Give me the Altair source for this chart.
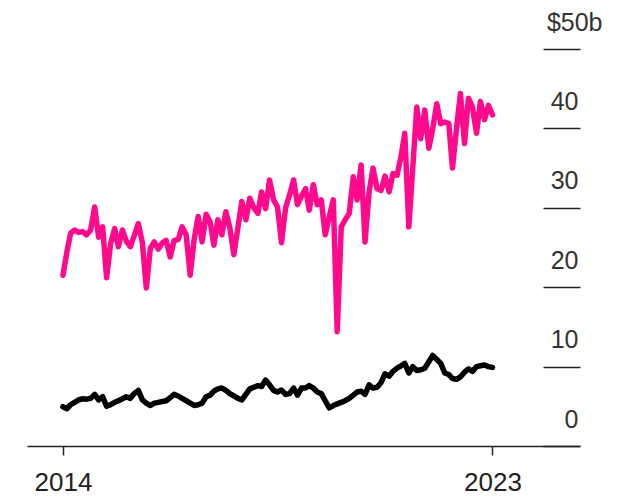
import altair as alt
import pandas as pd

# Monthly series, Jan 2014 .. Jan 2023 (values in $ billions)
start_month = "2014-01-01"
n_months = 109

pink_values = [
    21.5, 24.5, 26.8, 27.2, 26.9, 27.0, 26.6, 27.2, 30.1, 26.3,
    27.6, 21.2, 25.5, 27.4, 25.1, 27.2, 25.8, 25.1, 26.5, 28.0,
    25.6, 19.9, 24.9, 25.7, 24.8, 25.6, 25.9, 23.8, 25.9, 26.0,
    27.6, 26.6, 21.5, 26.0, 28.9, 25.7, 29.2, 28.2, 25.3, 28.5,
    26.6, 29.5, 27.5, 24.1, 27.5, 30.8, 28.5, 31.2, 30.0, 29.3,
    32.0, 29.9, 33.5, 31.0, 30.1, 25.6, 30.0, 31.6, 33.5, 30.4,
    31.5, 32.4, 29.7, 32.9, 30.4, 31.0, 26.6, 28.9, 31.0, 14.4,
    27.6, 28.5, 29.3, 33.9, 31.0, 35.4, 25.7, 32.0, 35.0, 32.4,
    32.2, 34.0, 32.0, 34.3, 34.1, 36.5, 39.4, 27.6, 35.0, 42.7,
    38.7, 42.3, 37.5, 40.0, 43.1, 40.6, 40.8, 40.6, 35.0, 40.0,
    44.4, 38.1, 43.8, 42.7, 39.4, 43.4, 41.1, 42.9, 41.7,
]

black_values = [
    4.95, 4.7, 5.2, 5.5, 5.8, 5.95, 5.9, 6.0, 6.5, 5.8,
    6.2, 5.0, 5.2, 5.5, 5.7, 5.95, 6.2, 6.0, 6.6, 7.0,
    5.8, 5.4, 5.1, 5.4, 5.5, 5.6, 5.7, 6.1, 6.5, 6.3,
    6.0, 5.7, 5.4, 5.1, 5.2, 5.4, 6.2, 6.4, 6.9, 7.2,
    7.3, 7.0, 6.6, 6.3, 6.0, 5.8, 6.5, 7.2, 7.4, 7.6,
    7.5, 8.3, 7.7, 7.0, 6.8, 7.05, 6.5, 6.6, 7.3, 6.4,
    7.3, 7.3, 7.6, 7.3, 6.8, 6.6, 5.7, 4.8, 5.1, 5.3,
    5.5, 5.7, 6.0, 6.4, 6.8, 6.9, 6.5, 7.7, 7.3, 7.4,
    8.0, 9.1, 8.8, 9.4, 9.8, 10.1, 10.4, 9.2, 10.0, 9.5,
    9.6, 9.8, 10.6, 11.4, 10.9, 10.4, 9.2, 9.0, 8.5, 8.4,
    8.7, 9.3, 9.7, 9.4, 10.0, 10.1, 10.2, 10.0, 9.9,
]

y_ticks = [0, 10, 20, 30, 40, 50]
x_tick_years = [2014, 2023]

months = pd.date_range(start_month, periods=n_months, freq="MS").strftime("%Y-%m-%d")
df = pd.DataFrame({
    "date": list(months) * 2,
    "value": pink_values + black_values,
    "series": ["pink"] * n_months + ["black"] * n_months,
})

x_enc = alt.X(
    "date:T",
    scale=alt.Scale(domain=[alt.DateTime(year=2013, month=4, date=1),
                            alt.DateTime(year=2024, month=11, date=1)]),
    axis=alt.Axis(
        values=[alt.DateTime(year=y, month=1, date=1) for y in x_tick_years],
        format="%Y",
        title=None,
        grid=False,
        domainColor="#222222",
        domainWidth=1.5,
        tickColor="#222222",
        tickWidth=1.5,
        tickSize=9,
        labelFont="Liberation Sans",
        labelFontSize=26,
        labelColor="#222222",
        labelPadding=14,
    ),
)

y_enc = alt.Y(
    "value:Q",
    scale=alt.Scale(domain=[0, 50]),
    axis=alt.Axis(
        orient="right",
        values=y_ticks,
        offset=-37,
        tickSize=37,
        tickColor="#222222",
        tickWidth=1.5,
        domain=False,
        grid=False,
        title=None,
        labelAlign="right",
        labelBaseline="alphabetic",
        labelPadding={"condition": {"test": "datum.value == 50", "value": 22}, "value": -2},
        labelOffset=-19,
        labelExpr="datum.value == 50 ? '$50b' : datum.label",
        labelFont="Liberation Sans",
        labelFontSize=25,
        labelColor="#333333",
    ),
)

base = alt.Chart(df)

pink_line = base.transform_filter(alt.datum.series == "pink").mark_line(
    color="#ff0a8c", strokeWidth=5.5, strokeJoin="round", strokeCap="round"
).encode(x=x_enc, y=y_enc)

black_line = base.transform_filter(alt.datum.series == "black").mark_line(
    color="#000000", strokeWidth=5.5, strokeJoin="round", strokeCap="round"
).encode(x=x_enc, y=y_enc)

chart = alt.layer(pink_line, black_line).properties(
    width=553,
    height=397,
    autosize=alt.AutoSizeParams(type="none"),
    padding={"left": 19, "top": 41, "right": 30, "bottom": 52},
    background="white",
).configure_view(stroke=None)

chart.save("out.html", embed_options={"renderer": "svg", "actions": False})
